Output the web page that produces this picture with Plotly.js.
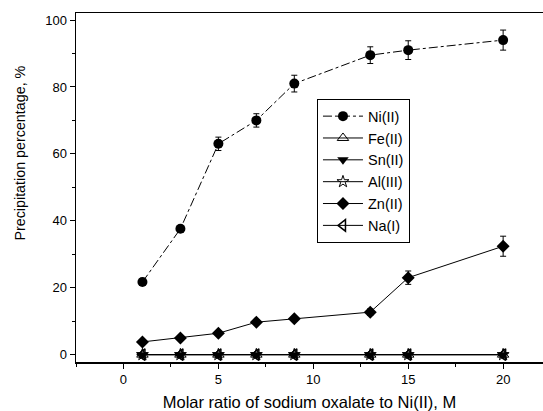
<!DOCTYPE html>
<html><head><meta charset="utf-8">
<script src="https://cdn.plot.ly/plotly-3.0.1.min.js"></script>
<style>body{margin:0;background:#fff}#c{width:543px;height:411px}</style>
</head><body><div id="c"></div>
<script>
const ratio = [1, 3, 5, 7, 9, 13, 15, 20];
const ni = [21.7, 37.6, 63, 70, 81, 89.5, 91, 94];
const niErr = [1, 1, 2, 2, 2.5, 2.5, 2.8, 3];
const fe = [0, 0, 0, 0, 0, 0, 0, 0];
const sn = [0, 0, 0, 0, 0, 0, 0, 0];
const al = [0, 0, 0, 0, 0, 0, 0, 0];
const zn = [3.8, 5.0, 6.4, 9.7, 10.7, 12.7, 23.0, 32.4];
const znErr = [0.5, 0.5, 0.5, 0.7, 0.7, 1, 2, 3];
const na = [0, 0, 0, 0, 0, 0, 0, 0];
const xTitle = 'Molar ratio of sodium oxalate to Ni(II), M';
const yTitle = 'Precipitation percentage, %';

const eb = (arr) => ({type:'data', array:arr, visible:true, color:'#000', thickness:1, width:3});
const traces = [
  {name:'Ni(II)', x:ratio, y:ni, error_y:eb(niErr), mode:'lines+markers',
   line:{color:'#000', width:1, dash:'dashdot'}, marker:{symbol:'circle', size:10, color:'#000'}},
  {name:'Fe(II)', x:ratio, y:fe, mode:'lines+markers',
   line:{color:'#000', width:1}, marker:{symbol:'triangle-up-open', size:10, color:'#000'}},
  {name:'Sn(II)', x:ratio, y:sn, mode:'lines+markers',
   line:{color:'#000', width:1}, marker:{symbol:'triangle-down', size:10, color:'#000'}},
  {name:'Al(III)', x:ratio, y:al, mode:'lines+markers',
   line:{color:'#000', width:1}, marker:{symbol:'star-open', size:9, color:'#000'}},
  {name:'Zn(II)', x:ratio, y:zn, error_y:eb(znErr), mode:'lines+markers',
   line:{color:'#000', width:1}, marker:{symbol:'diamond', size:10, color:'#000'}},
  {name:'Na(I)', x:ratio, y:na, mode:'lines+markers',
   line:{color:'#000', width:1}, marker:{symbol:'triangle-left-open', size:10, color:'#000', line:{width:1.5}}}
];

const layout = {
  width:543, height:411,
  margin:{l:76, r:0, t:13, b:49},
  paper_bgcolor:'#fff', plot_bgcolor:'#fff',
  font:{family:'Arial, Liberation Sans, sans-serif', size:13, color:'#000'},
  showlegend:true,
  legend:{x:0.516, y:0.753, xanchor:'left', yanchor:'top', bgcolor:'#fff',
    bordercolor:'#000', borderwidth:1, font:{size:14.5}, itemwidth:40},
  xaxis:{range:[-2.5, 22.1], tickvals:[0,5,10,15,20], ticks:'outside', ticklen:5,
    tickcolor:'#000', showline:true, linecolor:'#000', linewidth:1.5, mirror:true,
    showgrid:false, zeroline:false,
    minor:{tickvals:[-2.5,2.5,7.5,12.5,17.5], ticks:'outside', ticklen:3, tickcolor:'#000'},
    title:{text:xTitle, font:{size:16.5}, standoff:10}},
  yaxis:{range:[-2.2, 102.1], tickvals:[0,20,40,60,80,100], ticks:'outside', ticklen:5,
    tickcolor:'#000', showline:true, linecolor:'#000', linewidth:1.5,
    showgrid:false, zeroline:false,
    minor:{tickvals:[10,30,50,70,90], ticks:'outside', ticklen:3, tickcolor:'#000'}},
  annotations:[{text:yTitle, xref:'paper', yref:'paper', x:-0.12, y:0.6,
    xanchor:'center', yanchor:'middle', textangle:-90, showarrow:false, font:{size:14.3}}]
};
Plotly.newPlot('c', traces, layout, {displayModeBar:false, staticPlot:true});
</script></body></html>
